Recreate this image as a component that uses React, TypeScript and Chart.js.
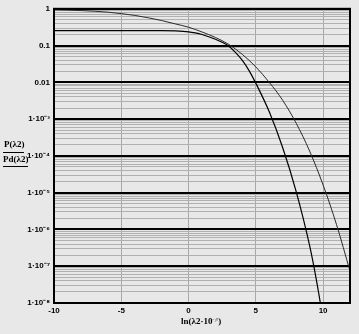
import React, { useEffect, useRef } from 'react';
import { Chart, registerables } from 'chart.js';

Chart.register(...registerables);

// x-axis ticks
const xTickValues = [-10, -5, 0, 5, 10];
// y decade labels, index = -exponent
const yTickLabels = ['1', '0.1', '0.01', '1·10⁻³', '1·10⁻⁴', '1·10⁻⁵', '1·10⁻⁶', '1·10⁻⁷', '1·10⁻⁸'];

// curve A: P(λ2)
const curveAX = [-10, -9, -8, -7, -6, -5, -4, -3, -2, -1, 0, 1, 2, 3, 4, 5, 6, 7, 8, 9, 10, 11, 12];
const curveAY = [0.94, 0.92, 0.895, 0.859, 0.809, 0.74, 0.661, 0.57, 0.48, 0.39, 0.316, 0.234, 0.166, 0.107, 0.0575, 0.0263, 0.01, 0.00324, 0.000776, 0.000135, 1.62e-5, 1.35e-6, 7.4e-8];

// curve B: Pd(λ2)
const curveBX = [-10, -6, -2, -1, 0, 0.5, 1, 1.5, 2, 2.5, 3, 3.5, 4, 4.5, 5, 6, 7, 8, 9, 9.5, 10];
const curveBY = [0.256, 0.256, 0.2555, 0.251, 0.237, 0.221, 0.2, 0.174, 0.148, 0.123, 0.0955, 0.0646, 0.0398, 0.0209, 0.0095, 0.00158, 1.66e-4, 1.07e-5, 3.63e-7, 4.27e-8, 3.6e-9];

const isDecade = (v: number) => {
  const l = Math.log10(v);
  return Math.abs(l - Math.round(l)) < 1e-9;
};

const framePlugin = {
  id: 'frame',
  afterDraw(chart: any) {
    const { ctx, chartArea } = chart;
    const { left, top, right, bottom } = chartArea;
    ctx.save();
    ctx.strokeStyle = '#000';
    ctx.lineWidth = 2;
    ctx.strokeRect(left, top, right - left, bottom - top);
    ctx.restore();
  },
};

export default function App() {
  const canvasRef = useRef<HTMLCanvasElement | null>(null);

  useEffect(() => {
    const canvas = canvasRef.current;
    if (!canvas) return;
    const tickFont = { family: 'Liberation Sans', size: 8, weight: 'bold' as const };
    const chart = new Chart(canvas, {
      type: 'line',
      data: {
        datasets: [
          {
            data: curveAX.map((x, i) => ({ x, y: curveAY[i] })),
            borderColor: '#2a2a2a',
            borderWidth: 1,
            pointRadius: 0,
            cubicInterpolationMode: 'monotone',
            fill: false,
          },
          {
            data: curveBX.map((x, i) => ({ x, y: curveBY[i] })),
            borderColor: '#000000',
            borderWidth: 1.2,
            pointRadius: 0,
            cubicInterpolationMode: 'monotone',
            fill: false,
          },
        ],
      },
      options: {
        responsive: false,
        animation: false,
        events: [],
        layout: { padding: { top: 5, right: 9, left: 0, bottom: 0 } },
        plugins: { legend: { display: false }, tooltip: { enabled: false } },
        scales: {
          x: {
            type: 'linear',
            min: -10,
            max: 12,
            afterBuildTicks: (scale: any) => {
              scale.ticks = xTickValues.map((v) => ({ value: v }));
            },
            afterFit: (scale: any) => {
              scale.height = 31;
            },
            ticks: {
              font: tickFont,
              color: '#000',
              padding: 3,
              autoSkip: false,
              maxRotation: 0,
              callback: (v: any) => String(v),
            },
            grid: { color: '#a8a8a8', lineWidth: 1, drawTicks: false },
            border: { display: true, color: '#000', width: 2 },
          },
          y: {
            type: 'logarithmic',
            min: 1e-8,
            max: 1,
            afterBuildTicks: (scale: any) => {
              const t: any[] = [];
              for (let e = -8; e < 0; e++) {
                for (let s = 1; s < 10; s++) t.push({ value: s * Math.pow(10, e) });
              }
              t.push({ value: 1 });
              scale.ticks = t;
            },
            afterFit: (scale: any) => {
              scale.width = 54;
            },
            ticks: {
              font: tickFont,
              color: '#000',
              padding: 4,
              autoSkip: false,
              callback: (v: any) => {
                const n = Number(v);
                if (!isDecade(n)) return '';
                return yTickLabels[-Math.round(Math.log10(n))];
              },
            },
            grid: {
              drawTicks: false,
              color: (ctx: any) => (ctx.tick && isDecade(ctx.tick.value) ? '#000' : '#b0b0b0'),
              lineWidth: (ctx: any) => (ctx.tick && isDecade(ctx.tick.value) ? 2 : 1),
            },
            border: { display: true, color: '#000', width: 2 },
          },
        },
      },
      plugins: [framePlugin],
    } as any);
    return () => chart.destroy();
  }, []);

  const labelFont = "bold 9px 'Liberation Serif'";
  return (
    <div
      style={{
        position: 'fixed',
        left: 0,
        top: 0,
        width: 359,
        height: 334,
        background: '#e8e8e8',
        overflow: 'hidden',
      }}
    >
      <canvas ref={canvasRef} width={359} height={334} style={{ display: 'block' }} />
      <div style={{ position: 'absolute', left: 4, top: 139, font: labelFont, color: '#000', lineHeight: '11px' }}>
        P(λ2)
      </div>
      <div style={{ position: 'absolute', left: 3, top: 152, width: 21, height: 1, background: '#000' }} />
      <div
        style={{
          position: 'absolute',
          left: 3,
          top: 154,
          font: labelFont,
          color: '#000',
          lineHeight: '11px',
          borderBottom: '1px solid #000',
          paddingBottom: 1,
        }}
      >
        Pd(λ2)
      </div>
      <div style={{ position: 'absolute', left: 181, top: 316, font: labelFont, color: '#000', lineHeight: '11px', whiteSpace: 'nowrap' }}>
        ln(λ2·10<span style={{ fontSize: 6, verticalAlign: 'top', color: '#888' }}>⁻²⁰</span>)
      </div>
    </div>
  );
}
